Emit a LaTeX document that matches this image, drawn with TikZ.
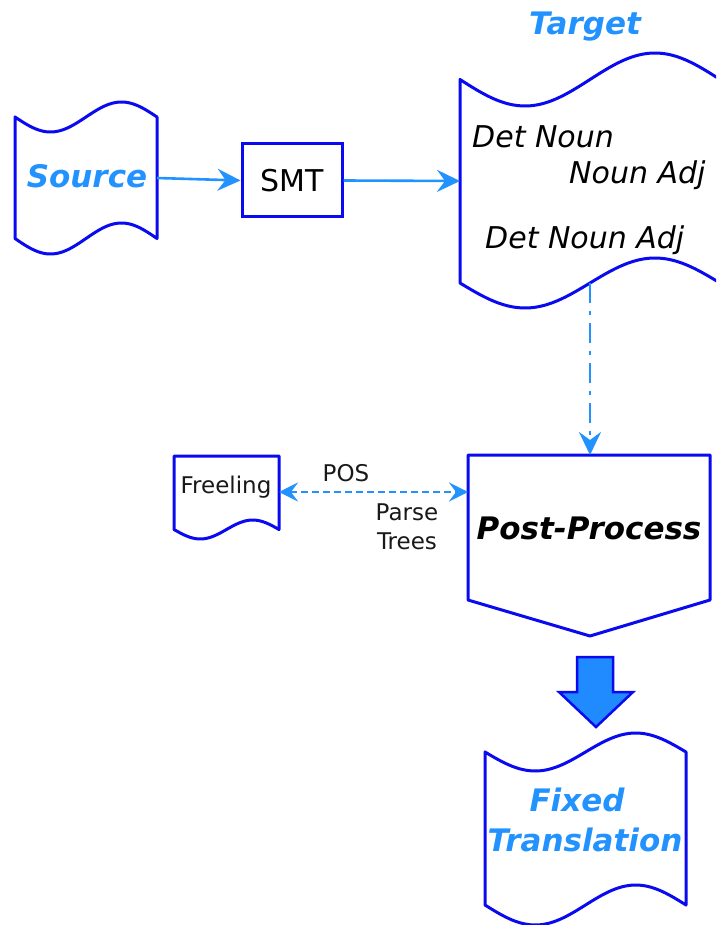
\documentclass[tikz,border=0pt]{standalone}
\usepackage{fontspec}
\setmainfont{DejaVu Sans}
\usetikzlibrary{arrows.meta}
\definecolor{lblue}{RGB}{34,146,255}
\definecolor{sblue}{RGB}{10,10,240}
\newcommand\wavedocshape[6]{%
  \draw[shapeline] plot[domain=#1:#2,samples=60,smooth] (\x,{#3+#4*sin((\x-#1)/(#2-#1)*360)})
    -- plot[domain=#2:#1,samples=60,smooth] (\x,{#5+#6*sin((\x-#1)/(#2-#1)*360)}) -- cycle;}
\begin{document}
\begin{tikzpicture}[x=1pt,y=-1pt,
  shapeline/.style={draw=sblue,line width=3pt,line join=round,fill=white},
  bigtext/.style={font=\fontsize{30}{36}\selectfont,inner sep=0pt},
  bluetitle/.style={bigtext,font=\fontsize{31}{36}\selectfont\bfseries\itshape,text=lblue},
  smalltext/.style={font=\fontsize{23}{28}\selectfont,inner sep=0pt,text=black!90},
  conn/.style={draw=lblue,line width=2.6pt,-{Stealth[length=23pt,width=22pt,inset=8pt]}},
  dashdotconn/.style={conn,dash pattern=on 20pt off 8pt on 4pt off 8pt},
  dotconn/.style={draw=lblue,line width=2.6pt,dash pattern=on 7pt off 4pt,
     {Stealth[length=19pt,width=19pt,inset=7pt]}-{Stealth[length=19pt,width=19pt,inset=7pt]}}
]
\clip (0,0) rectangle (716,925);
\fill[white] (0,0) rectangle (716,925);

% Source document
\wavedocshape{15}{157}{117}{15}{238.5}{15.5}
\node[bluetitle] (src) at (87,176) {Source};
\coordinate (srcE) at (157,178);

% SMT box
\node[bigtext,draw=sblue,line width=3pt,minimum width=100pt,minimum height=73pt] (smt) at (292,180.5) {SMT};

% Target document
\wavedocshape{460}{720}{79.5}{26.5}{283}{25}
\node[bluetitle] (tgtlabel) at (585,27) {Target};
\node[bigtext,font=\fontsize{30}{36}\selectfont\itshape,anchor=west] (t1) at (472,137) {Det Noun};
\node[bigtext,font=\fontsize{30}{36}\selectfont\itshape,anchor=west] (t2) at (569,175) {Noun Adj};
\node[bigtext,font=\fontsize{30}{36}\selectfont\itshape,anchor=west] (t3) at (485,240) {Det Noun Adj};
\coordinate (tgtW) at (460,181);
\coordinate (tgtB) at (590,283);

% Post-Process
\draw[shapeline] (468,455) -- (710,455) -- (710,600) -- (590,636) -- (468,600) -- cycle;
\node[bigtext,font=\fontsize{31}{36}\selectfont\bfseries\itshape] (pp) at (589,528) {Post-Process};
\coordinate (ppN) at (590,455);
\coordinate (ppW) at (468,492);

% Freeling
\draw[shapeline] (174,456) -- (279,456) -- (279,529.5)
  -- plot[domain=279:174,samples=40,smooth] (\x,{529.5+9.5*sin((\x-174)/105*360)}) -- cycle;
\node[smalltext] (freel) at (226,487) {Freeling};
\coordinate (frE) at (279,492);

% Labels on dotted connector
\node[smalltext] (pos) at (346,473) {POS};
\node[smalltext,align=center,font=\fontsize{23}{29}\selectfont] (parse) at (407,527) {Parse\\Trees};

% Block arrow
\draw[draw=sblue,line width=2.5pt,fill=lblue!95!blue,line join=miter]
  (577,657) -- (613,657) -- (613,692) -- (633,692) -- (596,727) -- (559,692) -- (577,692) -- cycle;

% Fixed Translation document
\wavedocshape{485}{686}{752}{19}{905}{20}
\node[bluetitle] (fix1) at (577,800) {Fixed};
\node[bluetitle] (fix2) at (585,840) {Translation};

% Connectors
\draw[conn] (srcE) -- (smt.west);
\draw[conn] (smt.east) -- (tgtW);
\draw[dashdotconn] (tgtB) -- (ppN);
\draw[dotconn] (frE) -- (ppW);
\end{tikzpicture}
\end{document}
